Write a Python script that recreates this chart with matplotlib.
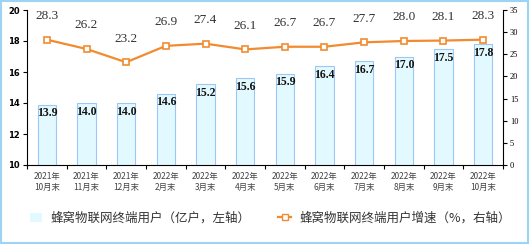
import matplotlib
matplotlib.use("Agg")
import matplotlib.pyplot as plt
from matplotlib.patches import Rectangle
from matplotlib.lines import Line2D

plt.rcParams['font.family'] = ['Noto Sans CJK SC', 'DejaVu Sans']

categories = ["2021年\n10月末", "2021年\n11月末", "2021年\n12月末", "2022年\n2月末",
              "2022年\n3月末", "2022年\n4月末", "2022年\n5月末", "2022年\n6月末",
              "2022年\n7月末", "2022年\n8月末", "2022年\n9月末", "2022年\n10月末"]
users = [13.9, 14.0, 14.0, 14.6, 15.2, 15.6, 15.9, 16.4, 16.7, 17.0, 17.5, 17.8]
growth = [28.3, 26.2, 23.2, 26.9, 27.4, 26.1, 26.7, 26.7, 27.7, 28.0, 28.1, 28.3]
bar_label = "蜂窝物联网终端用户（亿户，左轴）"
line_label = "蜂窝物联网终端用户增速（%，右轴）"

W, H = 530, 244
fig = plt.figure(figsize=(W / 100, H / 100), dpi=100)
fig.patches.append(Rectangle((0.002, 0.004), 0.995, 0.99, transform=fig.transFigure,
                             fill=False, edgecolor="#9DD3F5", linewidth=1.5))

ax = fig.add_axes([27 / W, 1 - 165 / H, (503 - 27) / W, (165 - 10) / H])
x = list(range(len(categories)))
bar_color = "#E2FAFF"
bar_edge = "#9CC8F5"
ax.bar(x, users, width=0.46, bottom=0, color=bar_color, edgecolor=bar_edge, linewidth=0.8)
ax.set_ylim(10, 20)
ax.set_xlim(-0.5, 11.5)
ax.set_yticks([10, 12, 14, 16, 18, 20])
ax.tick_params(axis='y', labelsize=6, length=3, width=0.8, pad=2)
ax.set_xticks(x)
ax.set_xticklabels(categories, fontsize=6, color="#444444", linespacing=1.35)
ax.tick_params(axis='x', length=0, pad=5)
ax.set_xticks([i - 0.5 for i in range(13)], minor=True)
ax.tick_params(axis='x', which='minor', length=3, width=0.8, direction='out')
for s in ['top', 'right']:
    ax.spines[s].set_visible(False)
for lab in ax.get_yticklabels():
    lab.set_fontfamily('DejaVu Sans')
    lab.set_fontweight('bold')

for xi, v in zip(x, users):
    ax.text(xi, v - 0.18, f"{v:.1f}", ha='center', va='top', fontsize=8.5,
            fontweight='bold', family='Liberation Serif', color='#111111')

ax2 = ax.twinx()
ax2.set_ylim(0, 35)
ax2.set_yticks([0, 5, 10, 15, 20, 25, 30, 35])
ax2.tick_params(axis='y', labelsize=6, length=3, width=0.8, pad=2)
for lab in ax2.get_yticklabels():
    lab.set_fontfamily('Liberation Serif')
for s in ['top', 'left', 'bottom']:
    ax2.spines[s].set_visible(False)
line_color = "#F28B30"
ax2.plot(x, growth, color=line_color, linewidth=1.6, marker='s', markersize=4,
         markerfacecolor='white', markeredgecolor=line_color, markeredgewidth=1.2)
for xi, v in zip(x, growth):
    ax2.text(xi, v + 4.0, f"{v:.1f}", ha='center', va='bottom', fontsize=9.5,
             family='Liberation Serif', color='#333333')

handles = [Rectangle((0, 0), 1, 1, facecolor=bar_color, edgecolor='none'),
           Line2D([0], [0], color=line_color, linewidth=1.6, marker='s', markersize=4,
                  markerfacecolor='white', markeredgecolor=line_color)]
fig.legend(handles, [bar_label, line_label], loc='center', bbox_to_anchor=(0.51, 1 - 218 / H),
           ncol=2, frameon=False, fontsize=9, handlelength=1.0, columnspacing=2.2,
           handletextpad=0.7, labelcolor='#333333')

fig.savefig("out.png", dpi=100)
